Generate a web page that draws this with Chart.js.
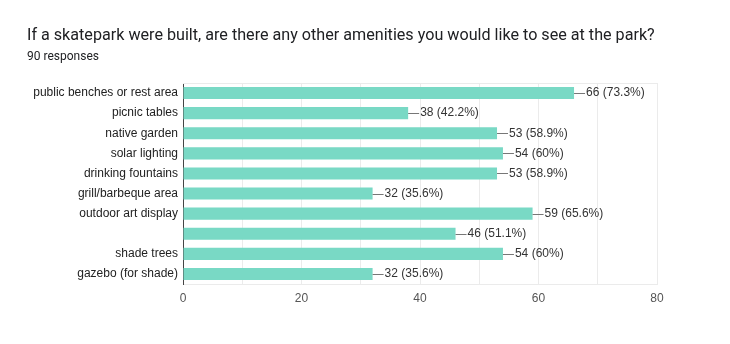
<!DOCTYPE html>
<html>
<head>
<meta charset="utf-8">
<script src="https://cdn.jsdelivr.net/npm/chart.js@4"></script>
<style>
  html, body { margin: 0; padding: 0; background: #fff; }
  #wrap { position: relative; width: 730px; height: 344px; }
  #title { position: absolute; left: 27px; top: 25px; font: 16.15px Roboto, sans-serif; color: #202124; white-space: nowrap; }
  #sub { position: absolute; left: 27px; top: 49px; font: 12px Roboto, sans-serif; color: #202124; }
  canvas { position: absolute; left: 0; top: 0; }
</style>
</head>
<body>
<div id="wrap">
  <canvas id="chart" width="730" height="344"></canvas>
  <div id="title">If a skatepark were built, are there any other amenities you would like to see at the park?</div>
  <div id="sub">90 responses</div>
</div>
<script>
// ===== amenities survey =====
const categories = [
  'public benches or rest area',
  'picnic tables',
  'native garden',
  'solar lighting',
  'drinking fountains',
  'grill/barbeque area',
  'outdoor art display',
  '',
  'shade trees',
  'gazebo (for shade)'
];
const counts = [66, 38, 53, 54, 53, 32, 59, 46, 54, 32];
const percents = ['73.3%', '42.2%', '58.9%', '60%', '58.9%', '35.6%', '65.6%', '51.1%', '60%', '35.6%'];
const xTicks = [0, 20, 40, 60, 80];

const barColor = '#79d9c5';

// Draws "n (p%)" at the end of each bar with a short leader line
const valueLabels = {
  id: 'valueLabels',
  afterDatasetsDraw(chart) {
    const ctx = chart.ctx;
    const meta = chart.getDatasetMeta(0);
    ctx.save();
    ctx.font = '12px Arial, "Liberation Sans", sans-serif';
    ctx.textBaseline = 'middle';
    ctx.fillStyle = '#333';
    ctx.strokeStyle = '#777';
    ctx.lineWidth = 1;
    meta.data.forEach((bar, i) => {
      const y = Math.round(bar.y) + 0.5;
      ctx.beginPath();
      ctx.moveTo(bar.x, y);
      ctx.lineTo(bar.x + 11, y);
      ctx.stroke();
      ctx.fillText(counts[i] + ' (' + percents[i] + ')', bar.x + 12, bar.y);
    });
    ctx.restore();
  }
};

new Chart(document.getElementById('chart'), {
  type: 'bar',
  data: {
    labels: categories,
    datasets: [{
      data: counts,
      backgroundColor: barColor,
      borderWidth: 0,
      barPercentage: 0.6,
      categoryPercentage: 1
    }]
  },
  options: {
    indexAxis: 'y',
    responsive: false,
    animation: false,
    layout: { padding: { top: 83, right: 73, left: 0, bottom: 0 } },
    plugins: {
      legend: { display: false },
      tooltip: { enabled: false }
    },
    scales: {
      x: {
        min: xTicks[0],
        max: xTicks[xTicks.length - 1],
        afterFit: s => { s.height = 60; },
        ticks: {
          stepSize: 10,
          padding: 7,
          color: '#555',
          font: { family: 'Arial, "Liberation Sans", sans-serif', size: 12 },
          callback: v => (xTicks.includes(v) ? v : '')
        },
        grid: { color: '#ebebeb', drawTicks: false },
        border: { display: true, color: '#ebebeb' }
      },
      y: {
        afterFit: s => { s.width = 183; },
        ticks: {
          padding: 5,
          color: '#222',
          font: { family: 'Arial, "Liberation Sans", sans-serif', size: 12 }
        },
        grid: { display: false, drawTicks: false },
        border: { display: true, color: '#444', width: 1 }
      }
    }
  },
  plugins: [valueLabels, {
    // light frame around the plot area
    id: 'frame',
    beforeDatasetsDraw(chart) {
      const { ctx, chartArea: a } = chart;
      ctx.save();
      ctx.strokeStyle = '#ebebeb';
      ctx.lineWidth = 1;
      ctx.beginPath();
      ctx.moveTo(a.left, a.top + 0.5);
      ctx.lineTo(a.right + 0.5, a.top + 0.5);
      ctx.lineTo(a.right + 0.5, a.bottom);
      ctx.stroke();
      ctx.restore();
    }
  }]
});
</script>
</body>
</html>
